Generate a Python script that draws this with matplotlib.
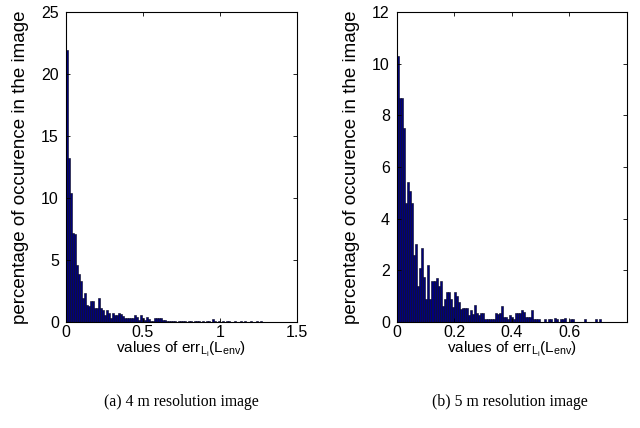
import numpy as np
import matplotlib
matplotlib.use("Agg")
import matplotlib.pyplot as plt

plt.rcParams['font.family'] = ['Liberation Sans', 'DejaVu Sans']
plt.rcParams['mathtext.fontset'] = 'custom'
plt.rcParams['mathtext.rm'] = 'Liberation Sans'
plt.rcParams['mathtext.it'] = 'Liberation Sans:italic'

# histogram of err values, 4 m image (bin width 0.013)
BIN_WIDTH_4M = 0.013
pct_4m = [21.9, 13.25, 10.4, 7.2, 7.1, 4.6, 3.9, 3.3, 1.9, 2.3,
          1.4, 1.25, 1.65, 1.65, 1.1, 1.1, 1.9, 1.1, 0.95, 0.55,
          0.95, 0.7, 0.3, 0.75, 0.55, 0.55, 0.7, 0.6, 0.45, 0.3,
          0.35, 0.3, 0.3, 0.3, 0.55, 0.4, 0.15, 0.55, 0.3, 0.15,
          0.4, 0.2, 0.1, 0.1, 0.3, 0.3, 0.3, 0.3, 0.15, 0.15,
          0.1, 0.1, 0.05, 0.08, 0.05, 0.0, 0.05, 0.05, 0.08, 0.05,
          0.0, 0.05, 0.05, 0.0, 0.05, 0.08, 0.05, 0.0, 0.05, 0.0,
          0.05, 0.05, 0.0, 0.25, 0.05, 0.0, 0.05, 0.0, 0.05, 0.0,
          0.05, 0.05, 0.0, 0.0, 0.05, 0.0, 0.0, 0.05, 0.0, 0.05,
          0.0, 0.0, 0.05, 0.0, 0.0, 0.05, 0.0, 0.05, 0.0, 0.0]

# histogram of err values, 5 m image (bin width 0.0071)
BIN_WIDTH_5M = 0.0071
pct_5m = [10.3, 8.67, 8.67, 7.5, 4.6, 5.4, 5.05, 4.6, 2.6, 3.0,
          1.4, 2.1, 2.85, 1.75, 0.88, 2.2, 0.88, 1.6, 1.6, 1.7,
          1.4, 1.6, 0.6, 0.9, 1.15, 1.15, 0.88, 0.58, 1.15, 1.0,
          0.77, 0.5, 0.55, 0.55, 0.55, 0.25, 0.45, 0.3, 0.65, 0.35,
          0.25, 0.35, 0.35, 0.1, 0.1, 0.1, 0.1, 0.1, 0.35, 0.3,
          0.35, 0.6, 0.2, 0.2, 0.1, 0.25, 0.2, 0.1, 0.35, 0.35,
          0.35, 0.45, 0.4, 0.2, 0.2, 0.2, 0.45, 0.1, 0.1, 0.1,
          0.0, 0.0, 0.1, 0.0, 0.1, 0.1, 0.0, 0.15, 0.1, 0.0,
          0.1, 0.1, 0.15, 0.0, 0.0, 0.1, 0.1, 0.0, 0.0, 0.0,
          0.0, 0.0, 0.1, 0.0, 0.0, 0.0, 0.0, 0.1, 0.0, 0.1]

xticks_4m = [0, 0.5, 1, 1.5]
xtick_labels_4m = ['0', '0.5', '1', '1.5']
yticks_4m = [0, 5, 10, 15, 20, 25]
xticks_5m = [0, 0.2, 0.4, 0.6]
xtick_labels_5m = ['0', '0.2', '0.4', '0.6']
yticks_5m = [0, 2, 4, 6, 8, 10, 12]

XLABEL = r'values of err$_{\mathrm{L}_\mathrm{i}}$(L$_\mathrm{env}$)'
YLABEL = 'percentage of occurence in the image'
CAPTIONS = ['(a) 4 m resolution image', '(b) 5 m resolution image']

BAR_FACE = '#00007c'
BAR_EDGE = '#05051a'
FS = 11.5

fig = plt.figure(figsize=(6.4, 4.28), dpi=100)
ax1 = fig.add_axes([0.103, 0.248, 0.361, 0.724])
ax2 = fig.add_axes([0.620, 0.248, 0.359, 0.724])


def draw_hist(ax, values, width, xlim, ylim, xticks, xlabels, yticks):
  edges = np.arange(len(values)) * width
  ax.bar(edges, values, width=width, align='edge', color=BAR_FACE,
         edgecolor=BAR_EDGE, linewidth=0.4)
  ax.set_xlim(*xlim)
  ax.set_ylim(*ylim)
  ax.set_xticks(xticks)
  ax.set_xticklabels(xlabels)
  ax.set_yticks(yticks)
  ax.tick_params(direction='in', top=True, right=True, labelsize=FS,
                 length=3, width=0.6)
  ax.tick_params(axis='y', pad=5)
  ax.tick_params(axis='x', pad=2)
  for s in ax.spines.values():
    s.set_linewidth(0.8)
  ax.set_xlabel(XLABEL, fontsize=11, labelpad=0)
  ax.set_ylabel(YLABEL, fontsize=13.5, labelpad=9)


draw_hist(ax1, pct_4m, BIN_WIDTH_4M, (0, 1.5), (0, 25), xticks_4m, xtick_labels_4m, yticks_4m)
draw_hist(ax2, pct_5m, BIN_WIDTH_5M, (0, 0.8), (0, 12), xticks_5m, xtick_labels_5m, yticks_5m)

fig.text(0.283, 0.06, CAPTIONS[0], ha='center', va='center', fontsize=11.3,
         family='Liberation Serif')
fig.text(0.797, 0.06, CAPTIONS[1], ha='center', va='center', fontsize=11.3,
         family='Liberation Serif')

fig.savefig('out.png', dpi=100)
